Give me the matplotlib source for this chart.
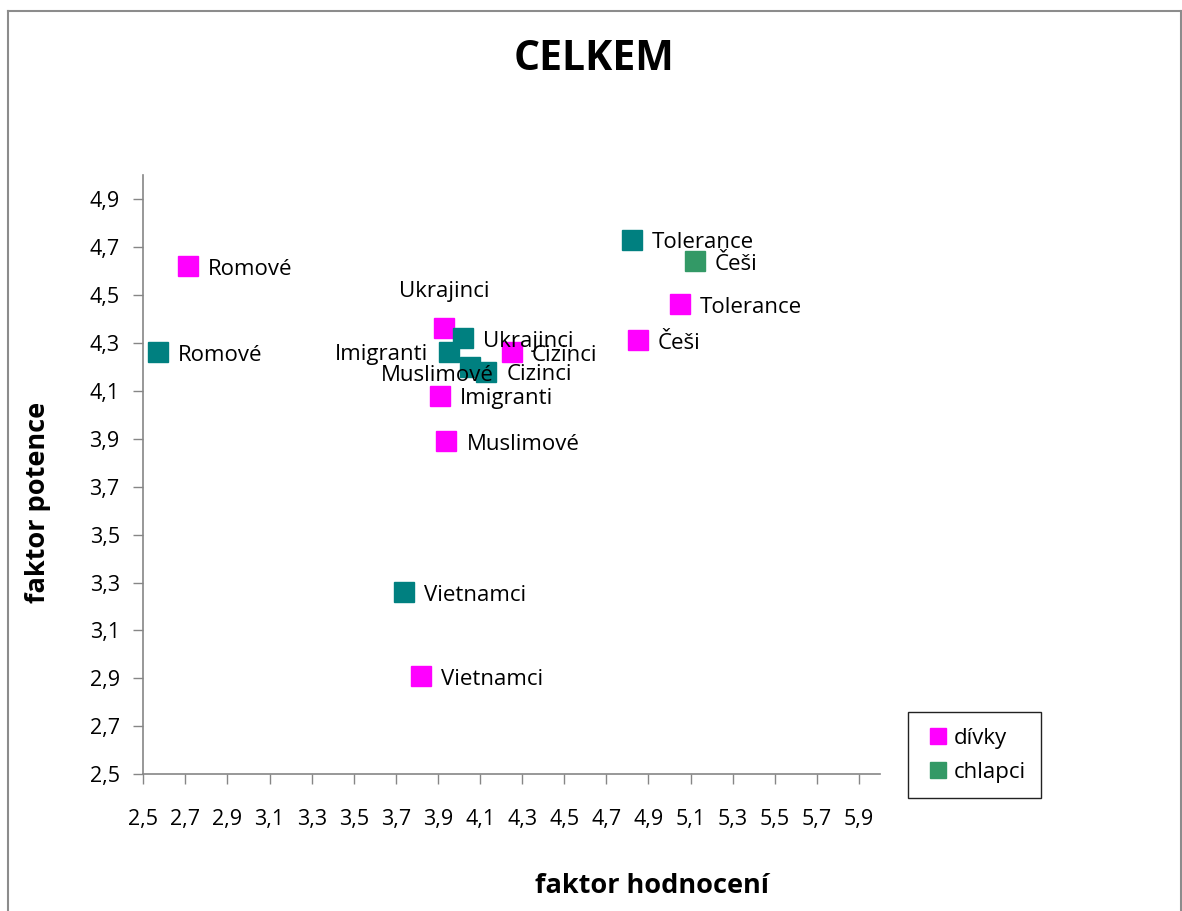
import matplotlib
matplotlib.use("Agg")
import matplotlib.pyplot as plt
from matplotlib.lines import Line2D
import numpy as np

plt.rcParams['font.family'] = ['Open Sans', 'DejaVu Sans']

# ---- data ----
labels = ["Romové", "Ukrajinci", "Cizinci", "Imigranti", "Muslimové", "Vietnamci", "Tolerance", "Češi"]
divky_x = [2.71, 3.93, 4.25, 3.91, 3.94, 3.82, 5.05, 4.85]
divky_y = [4.62, 4.36, 4.26, 4.08, 3.89, 2.91, 4.46, 4.31]
chlapci_x = [2.57, 4.02, 4.13, 3.95, 4.05, 3.74, 4.82, 5.12]
chlapci_y = [4.26, 4.32, 4.18, 4.26, 4.20, 3.26, 4.73, 4.64]
series_names = ["dívky", "chlapci"]
x_ticks = [2.5, 2.7, 2.9, 3.1, 3.3, 3.5, 3.7, 3.9, 4.1, 4.3, 4.5, 4.7, 4.9, 5.1, 5.3, 5.5, 5.7, 5.9]
y_ticks = [2.5, 2.7, 2.9, 3.1, 3.3, 3.5, 3.7, 3.9, 4.1, 4.3, 4.5, 4.7, 4.9]

# ---- style ----
PINK = "#FF00FF"
TEAL = "#008080"
GREEN = "#339966"
chlapci_colors = [TEAL, TEAL, TEAL, TEAL, TEAL, TEAL, TEAL, GREEN]
# label offsets in pixels (dx, dy) and alignment
divky_off = {"Ukrajinci": (0, 37, "center")}
chlapci_off = {"Imigranti": (-20, -2, "right"), "Muslimové": (-32, -9, "center")}

W, H = 1182, 911
fig = plt.figure(figsize=(W / 100, H / 100), dpi=100)
fig.patch.set_facecolor("white")
ax = fig.add_axes([143.3 / W, 1 - 774.3 / H, (880 - 143.3) / W, (774.3 - 175) / H])

ax.set_xlim(2.5, 6.0)
ax.set_ylim(2.5, 5.0)
ax.set_xticks(x_ticks)
ax.set_yticks(y_ticks)
fmt = lambda v: f"{v:.1f}".replace(".", ",")
ax.set_xticklabels([fmt(v) for v in x_ticks], fontsize=15.5)
ax.set_yticklabels([fmt(v) for v in y_ticks], fontsize=15.5)
for s in ["top", "right"]:
    ax.spines[s].set_visible(False)
for s in ["left", "bottom"]:
    ax.spines[s].set_color("#868686")
    ax.spines[s].set_linewidth(1.2)
ax.tick_params(axis="both", direction="out", length=7, width=1, color="#868686")
ax.tick_params(axis="x", pad=18)
ax.tick_params(axis="y", pad=10)

ms = 14.5
for x, y, lab in zip(divky_x, divky_y, labels):
    ax.plot(x, y, marker="s", ms=ms, color=PINK, mec=PINK, ls="none", zorder=3)
for x, y, lab, c in zip(chlapci_x, chlapci_y, labels, chlapci_colors):
    ax.plot(x, y, marker="s", ms=ms, color=c, mec=c, ls="none", zorder=3)

px = 72 / 100
def put(x, y, lab, offs):
    dx, dy, ha = offs.get(lab, (20, -3, "left"))
    ax.annotate(lab, (x, y), xytext=(dx * px, dy * px), textcoords="offset points",
                ha=ha, va="center", fontsize=16, color="black", zorder=4)

for x, y, lab in zip(divky_x, divky_y, labels):
    put(x, y, lab, divky_off)
for x, y, lab in zip(chlapci_x, chlapci_y, labels):
    put(x, y, lab, chlapci_off)

fig.text(594 / W, 1 - 60 / H, "CELKEM", ha="center", va="center", fontsize=29.5, fontweight="bold")
fig.text(652 / W, 1 - 886 / H, "faktor hodnocení", ha="center", va="center", fontsize=19.5, fontweight="bold")
fig.text(38 / W, 1 - 502 / H, "faktor potence", ha="center", va="center", fontsize=19.5,
         fontweight="bold", rotation=90)

handles = [Line2D([], [], marker="s", ls="none", ms=11.5, color=PINK, mec=PINK),
           Line2D([], [], marker="s", ls="none", ms=11.5, color=GREEN, mec=GREEN)]
leg = fig.legend(handles, series_names, loc="upper left",
                 bbox_to_anchor=(908 / W, 1 - 712 / H), fontsize=16,
                 frameon=True, fancybox=False, edgecolor="#222222", framealpha=1,
                 handlelength=1.3, handletextpad=0.05, labelspacing=0.6,
                 borderpad=0.7, borderaxespad=0)
leg.get_frame().set_linewidth(1.0)

# outer chart border
bc = "#8c8c8c"
fig.add_artist(Line2D([8 / W, 8 / W], [0, 1 - 11 / H], color=bc, lw=1.5))
fig.add_artist(Line2D([8 / W, 1180.5 / W], [1 - 11 / H, 1 - 11 / H], color=bc, lw=1.5))
fig.add_artist(Line2D([1180.5 / W, 1180.5 / W], [0, 1 - 11 / H], color=bc, lw=1.5))

fig.savefig("out.png", dpi=100)
